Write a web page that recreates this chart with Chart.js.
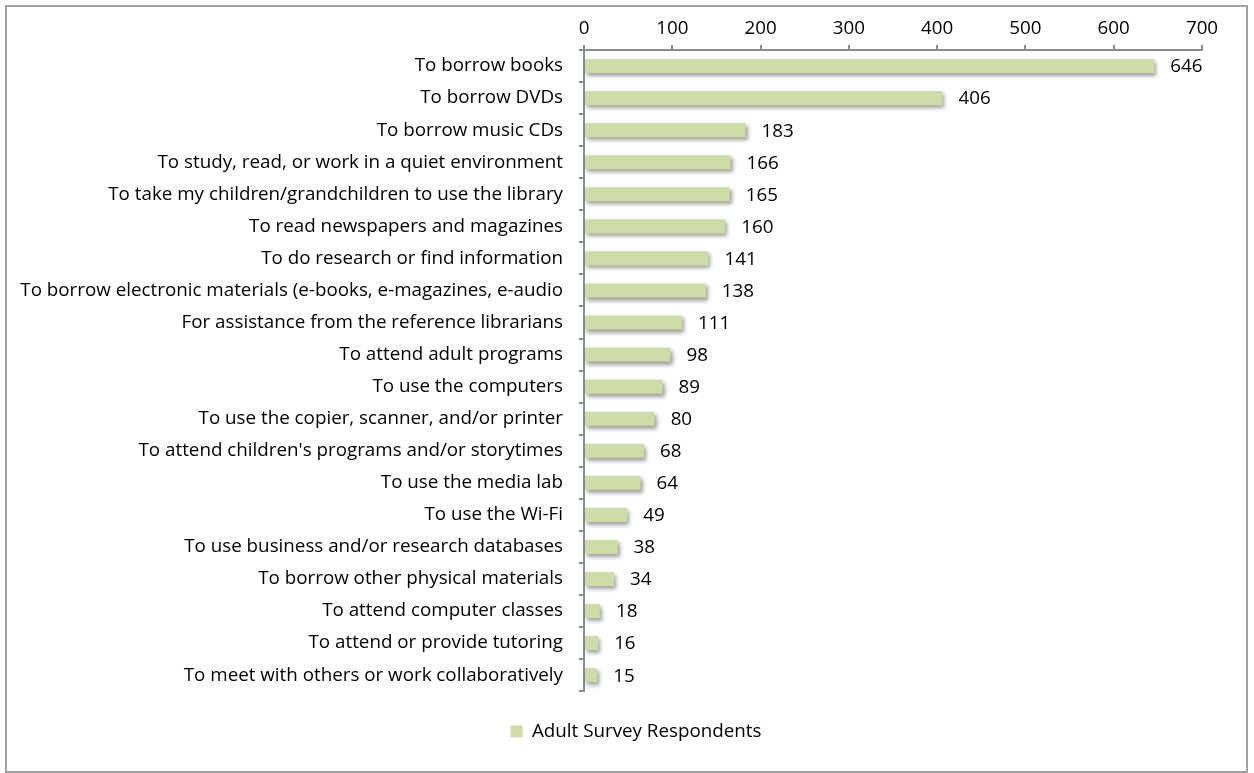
<!DOCTYPE html>
<html>
<head>
<meta charset="utf-8">
<script src="https://cdn.jsdelivr.net/npm/chart.js@4/dist/chart.umd.min.js"></script>
<style>
  html, body { margin: 0; padding: 0; background: #ffffff; }
  #wrap { position: relative; width: 1254px; height: 773px; }
</style>
</head>
<body>
<div id="wrap"><canvas id="chart" width="1254" height="773"></canvas></div>
<script>
// Reasons for visiting the library, adult survey
const categories = [
  "To borrow books",
  "To borrow DVDs",
  "To borrow music CDs",
  "To study, read, or work in a quiet environment",
  "To take my children/grandchildren to use the library",
  "To read newspapers and magazines",
  "To do research or find information",
  "To borrow electronic materials (e-books, e-magazines, e-audio",
  "For assistance from the reference librarians",
  "To attend adult programs",
  "To use the computers",
  "To use the copier, scanner, and/or printer",
  "To attend children's programs and/or storytimes",
  "To use the media lab",
  "To use the Wi-Fi",
  "To use business and/or research databases",
  "To borrow other physical materials",
  "To attend computer classes",
  "To attend or provide tutoring",
  "To meet with others or work collaboratively"
];
const respondents = [646, 406, 183, 166, 165, 160, 141, 138, 111, 98, 89, 80, 68, 64, 49, 38, 34, 18, 16, 15];
const seriesName = "Adult Survey Respondents";
const axisMin = 0;
const axisMax = 700;
const axisStep = 100;

const FONT = "'Open Sans', 'Noto Sans', sans-serif";
const FONT_SIZE = 18.8;
const BAR_COLOR = "#cddca9";
const AXIS_COLOR = "#8c8c8c";
const LEGEND_SHIFT = 35;

// Outer frame around the whole chart
const framePlugin = {
  id: "frame",
  beforeDraw(chart) {
    const c = chart.ctx;
    c.save();
    c.fillStyle = "#ffffff";
    c.fillRect(0, 0, chart.width, chart.height);
    c.strokeStyle = "#a3a3a3";
    c.lineWidth = 2;
    c.strokeRect(6, 6, 1241, 766);
    c.restore();
  }
};

// Centre the legend under the plotted region rather than the full canvas
const legendOffset = {
  id: "legendOffset",
  afterLayout(chart) {
    if (chart.legend) {
      chart.legend.left += LEGEND_SHIFT;
      chart.legend.right += LEGEND_SHIFT;
    }
  }
};

// Soft drop shadow under the bars
const shadowPlugin = {
  id: "barShadow",
  beforeDatasetsDraw(chart) {
    const c = chart.ctx;
    c.save();
    c.shadowColor = "rgba(0,0,0,0.38)";
    c.shadowBlur = 4;
    c.shadowOffsetX = 2;
    c.shadowOffsetY = 3;
  },
  afterDatasetsDraw(chart) {
    chart.ctx.restore();
  }
};

// Value printed to the right of each bar
const valueLabels = {
  id: "valueLabels",
  afterDatasetsDraw(chart) {
    const c = chart.ctx;
    const meta = chart.getDatasetMeta(0);
    c.save();
    c.font = FONT_SIZE + "px " + FONT;
    c.fillStyle = "#000000";
    c.textAlign = "left";
    c.textBaseline = "middle";
    meta.data.forEach((bar, i) => {
      c.fillText(String(chart.data.datasets[0].data[i]), bar.x + 16, bar.y + 1);
    });
    c.restore();
  }
};

new Chart(document.getElementById("chart"), {
  type: "bar",
  data: {
    labels: categories,
    datasets: [{
      label: seriesName,
      data: respondents,
      backgroundColor: BAR_COLOR,
      borderWidth: 0,
      barPercentage: 0.44,
      categoryPercentage: 1.0
    }]
  },
  options: {
    indexAxis: "y",
    responsive: false,
    animation: false,
    devicePixelRatio: 1,
    layout: { padding: { left: 0, right: 52, top: 0, bottom: 22 } },
    scales: {
      x: {
        position: "top",
        min: axisMin,
        max: axisMax,
        ticks: { stepSize: axisStep, color: "#000000", font: { family: FONT, size: FONT_SIZE }, padding: 5 },
        grid: { drawOnChartArea: false, drawTicks: true, tickLength: 5, color: AXIS_COLOR, lineWidth: 2 },
        border: { color: AXIS_COLOR, width: 2 },
        afterFit(scale) { scale.height = 50; }
      },
      y: {
        ticks: { color: "#000000", font: { family: FONT, size: FONT_SIZE }, padding: 16, autoSkip: false },
        grid: { drawOnChartArea: false, drawTicks: true, tickLength: 5, color: AXIS_COLOR, lineWidth: 2, offset: true },
        border: { color: AXIS_COLOR, width: 2 },
        afterFit(scale) { scale.width = 584; }
      }
    },
    plugins: {
      legend: {
        position: "bottom",
        labels: {
          boxWidth: 12,
          boxHeight: 12,
          color: "#000000",
          font: { family: FONT, size: FONT_SIZE },
          padding: 31
        }
      },
      tooltip: { enabled: false }
    }
  },
  plugins: [framePlugin, legendOffset, shadowPlugin, valueLabels]
});
</script>
</body>
</html>
